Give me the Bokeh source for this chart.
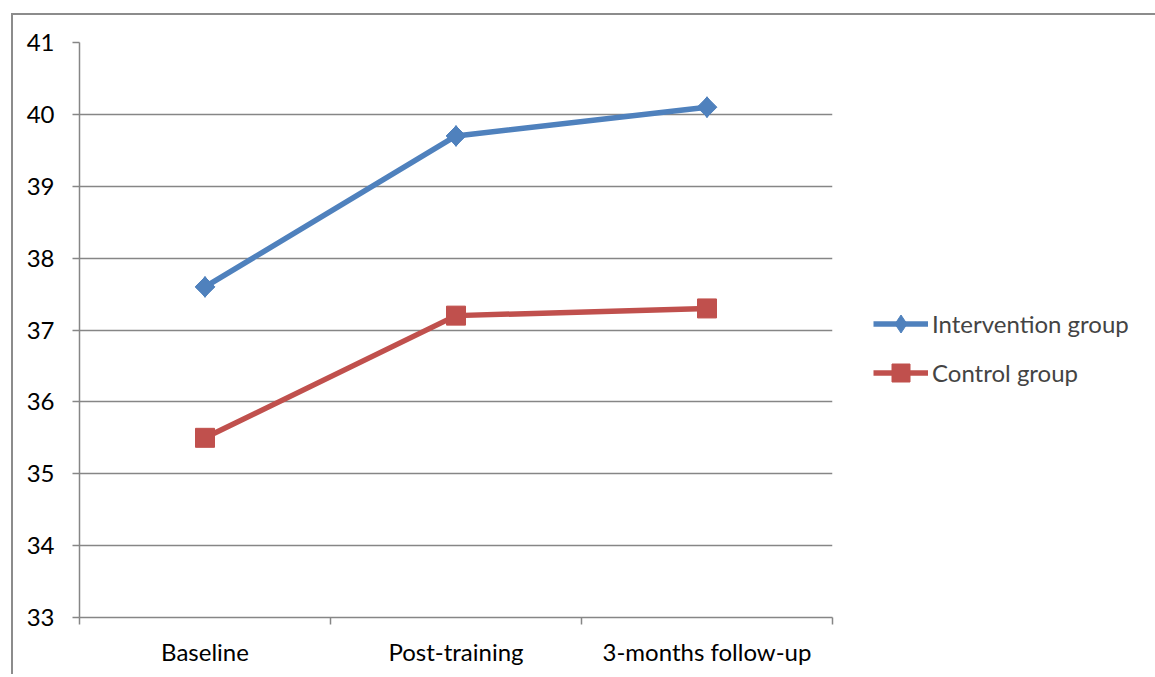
import math
from bokeh.plotting import figure
from bokeh.models import Range1d, FixedTicker, Legend, LegendItem
from bokeh.embed import file_html
from bokeh.resources import INLINE

categories = ["Baseline", "Post-training", "3-months follow-up"]
intervention = [37.6, 39.7, 40.1]
control = [35.5, 37.2, 37.3]
y_ticks = [33, 34, 35, 36, 37, 38, 39, 40, 41]

FONT = "Lato"
GRID = "#868686"
BLUE = "#4F81BD"
RED = "#C0504D"

xs = [i + 0.5 for i in range(len(categories))]

p = figure(frame_width=753, frame_height=575, output_backend="svg", toolbar_location=None,
           x_range=Range1d(0, len(categories)), y_range=Range1d(y_ticks[0], y_ticks[-1]),
           min_border_left=66, min_border_right=0, min_border_top=27,
           min_border_bottom=57)
p.styles = {"border-left": "2px solid #8c8c8c", "border-top": "2px solid #8c8c8c",
            "margin-left": "11px", "margin-top": "13px"}
p.outline_line_color = None
p.background_fill_color = "white"
p.border_fill_color = "white"

# x axis
p.xaxis.ticker = FixedTicker(ticks=xs, minor_ticks=list(range(len(categories) + 1)))
p.xaxis.major_label_overrides = {x: c for x, c in zip(xs, categories)}
p.xaxis.major_tick_out = 0
p.xaxis.major_tick_in = 0
p.xaxis.minor_tick_out = 7
p.xaxis.minor_tick_in = 0
p.xaxis.minor_tick_line_color = GRID
p.xaxis.minor_tick_line_width = 1.5
p.xaxis.axis_line_color = GRID
p.xaxis.axis_line_width = 1.5
p.xaxis.major_label_text_font = FONT
p.xaxis.major_label_text_font_size = "24px"
p.xaxis.major_label_text_color = "black"
p.xaxis.major_label_standoff = 12

# y axis
p.yaxis.ticker = FixedTicker(ticks=y_ticks)
p.yaxis.major_tick_out = 7
p.yaxis.major_tick_in = 0
p.yaxis.minor_tick_line_color = None
p.yaxis.major_tick_line_color = GRID
p.yaxis.major_tick_line_width = 1.5
p.yaxis.axis_line_color = GRID
p.yaxis.axis_line_width = 1.5
p.yaxis.major_label_text_font = FONT
p.yaxis.major_label_text_font_size = "24px"
p.yaxis.major_label_text_color = "black"
p.yaxis.major_label_standoff = 18

p.xgrid.grid_line_color = None
p.ygrid.ticker = FixedTicker(ticks=y_ticks)
p.ygrid.grid_line_color = GRID
p.ygrid.grid_line_width = 1.5

# series
l1 = p.line(xs, intervention, line_color=BLUE, line_width=5.5)
k1 = p.scatter(xs, intervention, marker="diamond", size=21, fill_color=BLUE, line_color=BLUE)
m1 = p.scatter(xs, intervention, marker="square", angle=math.pi / 4, size=14,
               fill_color=BLUE, line_color=BLUE)
l2 = p.line(xs, control, line_color=RED, line_width=5.5)
m2 = p.scatter(xs, control, marker="square", size=19, fill_color=RED, line_color=RED)

legend = Legend(items=[LegendItem(label="Intervention group", renderers=[l1, k1]),
                       LegendItem(label="Control group", renderers=[l2, m2])],
                location=(41, 222), padding=0, margin=0, spacing=4,
                glyph_width=55, glyph_height=45, label_standoff=4,
                label_text_font=FONT, label_text_font_size="24px",
                border_line_color=None, background_fill_alpha=0)
p.add_layout(legend, "right")

open("out.html", "w").write(file_html(p, INLINE))
